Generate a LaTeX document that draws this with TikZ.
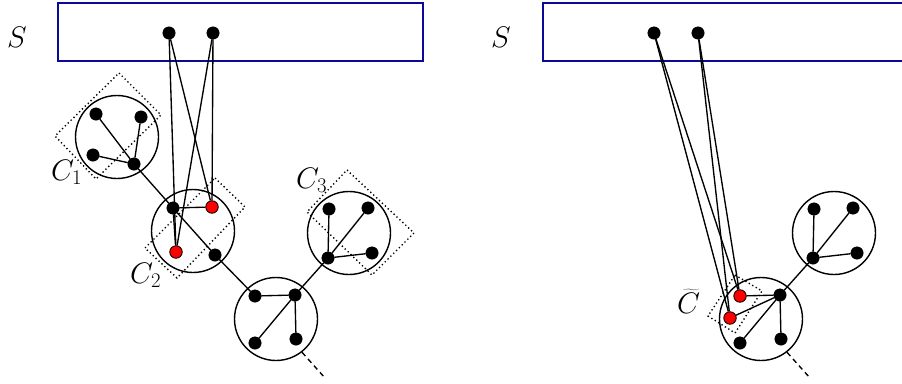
\RequirePackage{fix-cm}
\documentclass[tikz,border=0pt]{standalone}
\usetikzlibrary{calc}
\definecolor{sblue}{RGB}{10,10,150}
\begin{document}
\begin{tikzpicture}[x=1pt,y=-1pt,
  vdot/.style={circle,fill=black,draw=black,inner sep=0pt,minimum size=12.5pt},
  rdot/.style={circle,fill=red,draw=black,line width=0.8pt,inner sep=0pt,minimum size=12.5pt},
  comp/.style={circle,draw=black,line width=1.4pt,inner sep=0pt,minimum size=83pt},
  edge/.style={line width=1.35pt},
  cutbox/.style={line width=1.4pt,dash pattern=on 1.3pt off 2.7pt},
  sbox/.style={draw=sblue,line width=1.5pt},
  lab/.style={inner sep=0pt,scale=1.1,font=\fontsize{27}{32}\selectfont},
  tail/.style={line width=1.35pt,dash pattern=on 5pt off 4pt}]
\useasboundingbox (0,0) rectangle (902,383);
\clip (0,0) rectangle (902,383);
\fill[white] (0,0) rectangle (902,383);

% ---------------- left panel ----------------
\draw[sbox] (58,3) rectangle (423,61);
\node[lab] (SL) at (17,37) {$S$};

\draw[cutbox] (119,73) -- (161,115) -- (96,179) -- (55,136) -- cycle;
\draw[cutbox] (215,178) -- (245,207) -- (177,278) -- (145,248) -- cycle;
\draw[cutbox] (347,170) -- (414,233) -- (372,275) -- (307,212) -- cycle;

\node[comp] (K1) at (117,137) {};
\node[comp] (K2) at (193,231) {};
\node[comp] (K3) at (349,233) {};
\node[comp] (K4) at (276,319) {};

\node[lab,anchor=base west] (LC1) at (51,180) {$C_1$};
\node[lab,anchor=base west] (LC2) at (130,283) {$C_2$};
\node[lab,anchor=base west] (LC3) at (296,188) {$C_3$};

\node[vdot] (s1) at (169,33) {};
\node[vdot] (s2) at (213,33) {};

\node[vdot] (a1) at (96,114) {};
\node[vdot] (a2) at (141,117) {};
\node[vdot] (a3) at (93,155) {};
\node[vdot] (a4) at (134,164) {};

\node[vdot] (b1) at (173,208) {};
\node[rdot] (b2) at (212,207) {};
\node[rdot] (b3) at (176,252) {};
\node[vdot] (b4) at (215,255) {};

\node[vdot] (c1) at (329,209) {};
\node[vdot] (c2) at (368,208) {};
\node[vdot] (c3) at (372,253) {};
\node[vdot] (c4) at (328,258) {};

\node[vdot] (d1) at (255,296) {};
\node[vdot] (d2) at (295,295) {};
\node[vdot] (d3) at (255,343) {};
\node[vdot] (d4) at (296,339) {};

\coordinate (tl) at (325,378);

\draw[edge] (a1) -- (a4);
\draw[edge] (a2) -- (a4);
\draw[edge] (a3) -- (a4);
\draw[edge] (a4) -- (b1);
\draw[edge] (b1) -- (b2);
\draw[edge] (b1) -- (b3);
\draw[edge] (b1) -- (b4);
\draw[edge] (b4) -- (d1);
\draw[edge] (d1) -- (d2);
\draw[edge] (d2) -- (d3);
\draw[edge] (d2) -- (d4);
\draw[edge] (d2) -- (c4);
\draw[edge] (c4) -- (c1);
\draw[edge] (c4) -- (c2);
\draw[edge] (c4) -- (c3);
\draw[edge] (s1) -- (b3);
\draw[edge] (s1) -- (b2);
\draw[edge] (s2) -- (b3);
\draw[edge] (s2) -- (b2);
\draw[tail] (K4.-52) -- (tl);

% ---------------- right panel ----------------
\draw[sbox] (543,3) rectangle (912,61);
\node[lab] (SR) at (501,37) {$S$};

\draw[cutbox] (735,275) -- (762,291) -- (735,333) -- (708,316) -- cycle;

\node[comp] (Q3) at (834,233) {};
\node[comp] (Q4) at (761,319) {};

\node[lab,anchor=base west] (LCt) at (677,313) {$\widetilde{C}$};

\node[vdot] (t1) at (654,33) {};
\node[vdot] (t2) at (698,33) {};

\node[vdot] (e1) at (814,209) {};
\node[vdot] (e2) at (853,208) {};
\node[vdot] (e3) at (857,253) {};
\node[vdot] (e4) at (813,258) {};

\node[rdot] (r1) at (740,296) {};
\node[rdot] (r2) at (730,318) {};
\node[vdot] (f2) at (780,295) {};
\node[vdot] (f3) at (740,343) {};
\node[vdot] (f4) at (781,339) {};

\coordinate (tr) at (810,378);

\draw[edge] (r1) -- (f2);
\draw[edge] (r2) -- (f2);
\draw[edge] (f2) -- (f3);
\draw[edge] (f2) -- (f4);
\draw[edge] (f2) -- (e4);
\draw[edge] (e4) -- (e1);
\draw[edge] (e4) -- (e2);
\draw[edge] (e4) -- (e3);
\draw[edge] (t1) -- (r1);
\draw[edge] (t1) -- (r2);
\draw[edge] (t2) -- (r1);
\draw[edge] (t2) -- (r2);
\draw[tail] (Q4.-52) -- (tr);
\end{tikzpicture}
\end{document}
